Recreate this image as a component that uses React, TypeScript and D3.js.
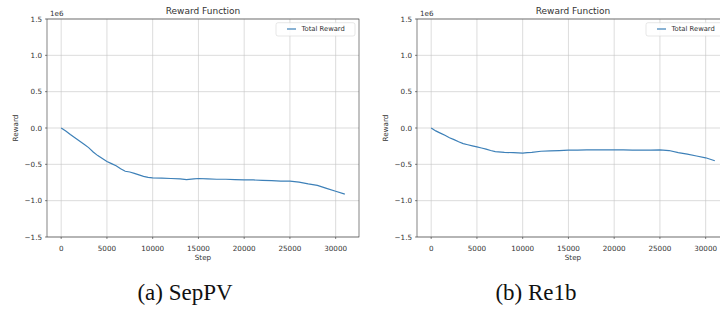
import React from "react";
import * as d3 from "d3";

// Training step at which each reward sample was logged
const sepPVSteps = [0, 500, 1000, 1500, 2000, 2500, 3000, 3500, 4000, 4500, 5000, 5500, 6000, 6500, 7000, 7500, 8000, 8500, 9000, 9500, 10000, 11000, 12000, 13000, 13700, 14500, 15000, 16000, 17000, 18000, 19000, 20000, 21000, 22000, 23000, 24000, 25000, 26000, 27000, 28000, 29000, 30000, 31000];
// Total reward (×1e6) for SepPV
const sepPVReward = [0, -0.04, -0.09, -0.135, -0.18, -0.225, -0.27, -0.33, -0.38, -0.42, -0.46, -0.49, -0.52, -0.56, -0.595, -0.605, -0.625, -0.645, -0.665, -0.68, -0.685, -0.69, -0.695, -0.7, -0.71, -0.7, -0.695, -0.7, -0.705, -0.705, -0.71, -0.715, -0.715, -0.72, -0.725, -0.73, -0.73, -0.745, -0.77, -0.79, -0.83, -0.87, -0.91];

const re1bSteps = [0, 500, 1000, 1500, 2000, 2500, 3000, 3500, 4000, 4500, 5000, 5500, 6000, 6500, 7000, 8000, 9000, 10000, 10500, 11000, 12000, 13000, 14000, 15000, 16000, 17000, 18000, 19000, 20000, 21000, 22000, 23000, 24000, 25000, 26000, 27000, 28000, 29000, 30000, 31000];
// Total reward (×1e6) for Re1b
const re1bReward = [0, -0.04, -0.07, -0.1, -0.135, -0.16, -0.19, -0.215, -0.23, -0.245, -0.26, -0.275, -0.29, -0.31, -0.325, -0.335, -0.34, -0.345, -0.34, -0.335, -0.32, -0.315, -0.31, -0.305, -0.305, -0.3, -0.3, -0.3, -0.3, -0.3, -0.305, -0.305, -0.305, -0.3, -0.31, -0.34, -0.36, -0.385, -0.41, -0.45];

const xTicks = [0, 5000, 10000, 15000, 20000, 25000, 30000];
const yTicks = [-1.5, -1.0, -0.5, 0.0, 0.5, 1.0, 1.5];
const yTickLabels = ["−1.5", "−1.0", "−0.5", "0.0", "0.5", "1.0", "1.5"];

const panelTitles = ["Reward Function", "Reward Function"];
const captions = ["(a) SepPV", "(b) Re1b"];
const seriesName = "Total Reward";

const SANS = "'DejaVu Sans', sans-serif";
const LINE = "#3d80b8";

type PanelProps = {
  left: number;
  steps: number[];
  values: number[];
  title: string;
  caption: string;
  captionX: number;
  clipId: string;
};

function Panel({ left, steps, values, title, caption, captionX, clipId }: PanelProps) {
  const width = 312;
  const top = 19;
  const bottom = 237;
  const x = d3.scaleLinear().domain([-1550, 32550]).range([left, left + width]);
  const y = d3.scaleLinear().domain([-1.5, 1.5]).range([bottom, top]);
  const pts: [number, number][] = steps.map((s, i) => [s, values[i]]);
  const line = d3
    .line<[number, number]>()
    .x((d) => x(d[0]))
    .y((d) => y(d[1]))
    .curve(d3.curveLinear);
  const right = left + width;
  const legLeft = right - 83;
  return (
    <g>
      <defs>
        <clipPath id={clipId}>
          <rect x={left} y={top} width={width} height={bottom - top} />
        </clipPath>
      </defs>
      {/* grid */}
      {xTicks.map((t) => (
        <line key={"gx" + t} x1={x(t)} x2={x(t)} y1={top} y2={bottom} stroke="#c4c4c4" strokeWidth={0.6} />
      ))}
      {yTicks.map((t) => (
        <line key={"gy" + t} x1={left} x2={right} y1={y(t)} y2={y(t)} stroke="#c4c4c4" strokeWidth={0.6} />
      ))}
      <path d={line(pts) || ""} fill="none" stroke={LINE} strokeWidth={1.2} clipPath={`url(#${clipId})`} />
      {/* spines */}
      <rect x={left} y={top} width={width} height={bottom - top} fill="none" stroke="#333" strokeWidth={0.6} />
      {/* x ticks */}
      {xTicks.map((t) => (
        <g key={"xt" + t}>
          <line x1={x(t)} x2={x(t)} y1={bottom} y2={bottom + 2} stroke="#333" strokeWidth={0.6} />
          <text x={x(t)} y={bottom + 13.5} textAnchor="middle" fontFamily={SANS} fontSize={7.2} fill="#333">
            {t}
          </text>
        </g>
      ))}
      {yTicks.map((t, i) => (
        <g key={"yt" + t}>
          <line x1={left - 2} x2={left} y1={y(t)} y2={y(t)} stroke="#333" strokeWidth={0.6} />
          <text x={left - 5} y={y(t) + 2.6} textAnchor="end" fontFamily={SANS} fontSize={7.2} fill="#333">
            {yTickLabels[i]}
          </text>
        </g>
      ))}
      <text x={left + 3} y={top - 3} fontFamily={SANS} fontSize={7.2} fill="#333">
        1e6
      </text>
      <text x={(left + right) / 2} y={top - 5} textAnchor="middle" fontFamily={SANS} fontSize={9} fill="#333">
        {title}
      </text>
      <text x={(left + right) / 2} y={bottom + 22.5} textAnchor="middle" fontFamily={SANS} fontSize={7.2} fill="#333">
        Step
      </text>
      <text
        transform={`translate(${left - 29},${(top + bottom) / 2}) rotate(-90)`}
        textAnchor="middle"
        fontFamily={SANS}
        fontSize={7.2}
        fill="#333"
      >
        Reward
      </text>
      {/* legend */}
      <rect x={legLeft} y={top + 3.7} width={79} height={13.3} rx={2} fill="#fff" fillOpacity={0.85} stroke="#d6d6d6" strokeWidth={0.6} />
      <line x1={legLeft + 11} x2={legLeft + 20} y1={top + 10} y2={top + 10} stroke={LINE} strokeWidth={1.2} />
      <text x={legLeft + 25.5} y={top + 12.4} fontFamily={SANS} fontSize={6.8} fill="#333">
        {seriesName}
      </text>
      <text x={captionX} y={300} textAnchor="middle" fontFamily="'Liberation Serif', serif" fontSize={23} fill="#111">
        {caption}
      </text>
    </g>
  );
}

export default function App() {
  return (
    <svg
      width={720}
      height={320}
      viewBox="0 0 720 320"
      style={{ position: "absolute", left: 0, top: 0, background: "#fff" }}
    >
      <rect width={720} height={320} fill="#fff" />
      <Panel left={47} steps={sepPVSteps} values={sepPVReward} title={panelTitles[0]} caption={captions[0]} captionX={185} clipId="clipA" />
      <Panel left={417} steps={re1bSteps} values={re1bReward} title={panelTitles[1]} caption={captions[1]} captionX={536} clipId="clipB" />
    </svg>
  );
}
